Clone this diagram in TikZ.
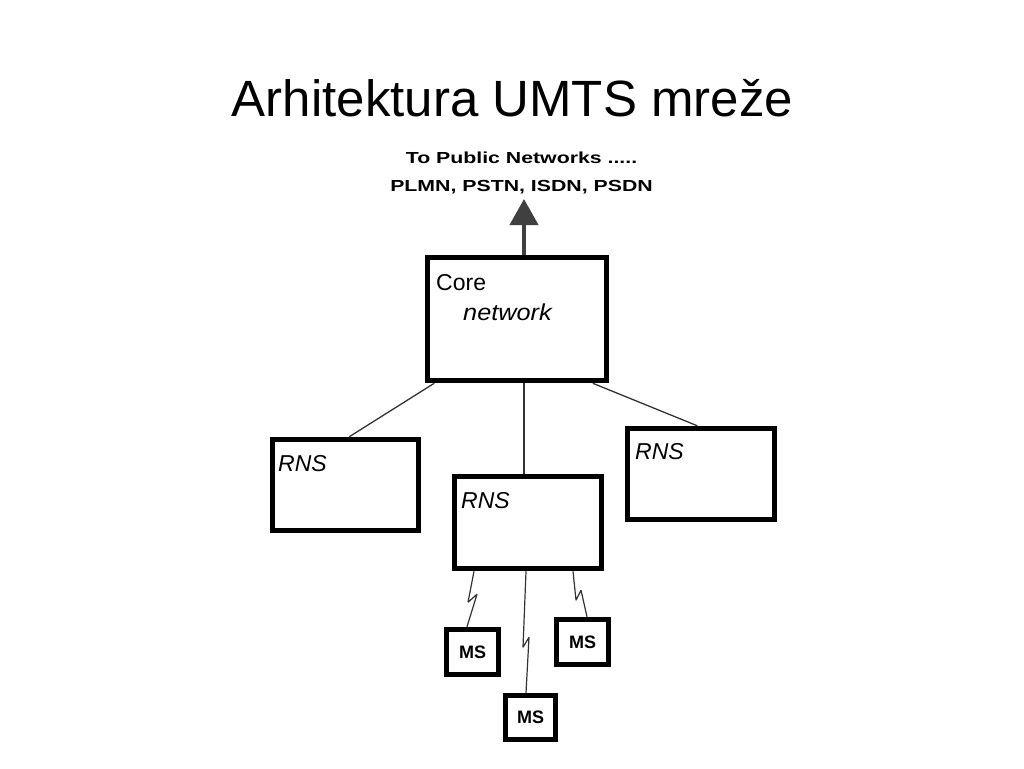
\documentclass[tikz,border=0pt]{standalone}
\usepackage{fontspec}
\setmainfont{Liberation Sans}
\usetikzlibrary{arrows.meta,calc}
\tikzset{
  bigbox/.style={draw=black, line width=5.5pt, fill=white, rectangle, inner sep=0pt},
  msbox/.style={draw=black, line width=5.5pt, fill=white, rectangle, inner sep=0pt,
     font=\fontsize{18}{20}\selectfont\bfseries, text depth=0pt},
  boxtext/.style={anchor=base west, inner sep=0pt, font=\fontsize{23}{26}\selectfont\itshape},
  link/.style={draw=black!80, line width=1.3pt},
  bolt/.style={draw=black!80, line width=1.2pt, line join=bevel},
  pubtext/.style={anchor=base, inner sep=0pt, font=\fontsize{16}{18}\selectfont\bfseries, xscale=1.33, transform shape}
}
\begin{document}
\begin{tikzpicture}[x=1pt,y=-1pt]
\useasboundingbox (0,0) rectangle (1024,768);
\fill[white] (0,0) rectangle (1024,768);

% title
\node[anchor=base, inner sep=0pt, font=\fontsize{51}{60}\selectfont] (title) at (512.5,116) {Arhitektura UMTS mreže};

% public networks text
\node[pubtext] (pub1) at (521.5,163) {To Public Networks .....};
\node[pubtext] (pub2) at (521.5,191) {PLMN, PSTN, ISDN, PSDN};

% boxes
\node[bigbox, minimum width=179pt, minimum height=123pt] (core) at (517,319) {};
\node[bigbox, minimum width=146pt, minimum height=91pt] (rnsL) at (345.5,485) {};
\node[bigbox, minimum width=147pt, minimum height=92pt] (rnsM) at (528,522.5) {};
\node[bigbox, minimum width=147pt, minimum height=91pt] (rnsR) at (701,474) {};

\node[msbox, minimum width=52pt, minimum height=45pt] (ms1) at (472.5,652) {MS};
\node[msbox, minimum width=50pt, minimum height=44pt] (ms2) at (530.5,717.5) {MS};
\node[msbox, minimum width=52pt, minimum height=45pt] (ms3) at (582.5,642) {MS};

% box texts
\node[boxtext, font=\fontsize{23}{26}\selectfont] (coreA) at (436,290) {Core};
\node[boxtext, xscale=1.1, transform shape] (coreB) at (463,320) {network};
\node[boxtext] (tL) at (278,471) {RNS};
\node[boxtext] (tM) at (461,508) {RNS};
\node[boxtext] (tR) at (635,459) {RNS};

% arrow to public networks
\coordinate (pubtip) at (524,199);
\draw[draw=black!75, line width=4pt, -{Triangle[width=28pt,length=26pt]}]
  ([xshift=7pt]core.north) -- (pubtip);

% links core - RNS
\draw[link] ([xshift=9.5pt]core.south west) -- ([xshift=79.5pt]rnsL.north west);
\draw[link] ([xshift=7pt]core.south) -- ([xshift=7pt]core.south |- rnsM.north);
\draw[link] ([xshift=-16.5pt]core.south east) -- ([xshift=72.5pt]rnsR.north west);

% radio links RNS - MS
\draw[bolt] ([xshift=-54pt]rnsM.south) -- ++(-6,31) -- ++(9,-8) -- ([xshift=-5.5pt]ms1.north);
\draw[bolt] ([xshift=-2pt]rnsM.south) -- ++(-3,76) -- ++(6,-10) -- ([xshift=-4.5pt]ms2.north);
\draw[bolt] ([xshift=45pt]rnsM.south) -- ++(3,29) -- ++(5,-10) -- ([xshift=4.5pt]ms3.north);
\end{tikzpicture}
\end{document}
